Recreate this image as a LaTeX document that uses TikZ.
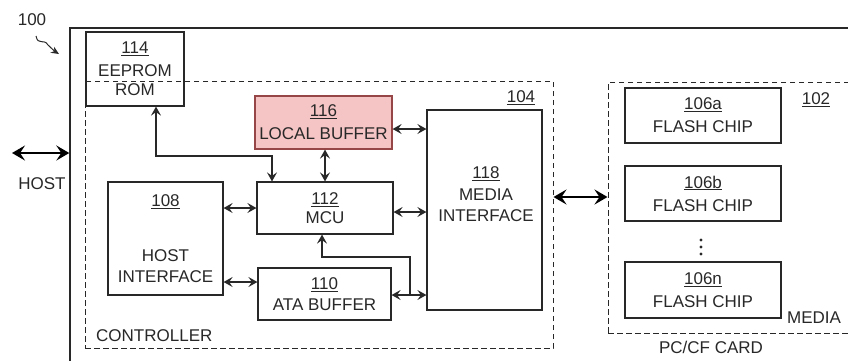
\documentclass[tikz,border=0pt]{standalone}
\usepackage{fontspec}
\setmainfont{Liberation Sans}
\usetikzlibrary{arrows.meta}
\definecolor{inkc}{RGB}{40,40,40}
\definecolor{pinkfill}{RGB}{245,196,196}
\definecolor{pinkdraw}{RGB}{150,70,70}
\begin{document}
\begin{tikzpicture}[x=1pt,y=-1pt,
  txt/.style={font=\fontsize{17}{24}\selectfont, text=inkc, inner sep=0pt},
  blk/.style={draw=inkc, line width=1.2pt, inner sep=0pt, align=center,
    font=\fontsize{17}{23}\selectfont, text=inkc},
  dbox/.style={draw=inkc, line width=1pt, dash pattern=on 5.5pt off 3.5pt, inner sep=0pt},
  biarr/.style={draw=inkc, line width=1.1pt, {Stealth[length=9pt,width=10pt,inset=3.5pt]}-{Stealth[length=9pt,width=10pt,inset=3.5pt]}},
  onearr/.style={draw=inkc, line width=1.1pt, -{Stealth[length=9pt,width=10pt,inset=3.5pt]}},
  fatarr/.style={draw=black, line width=2.6pt, {Stealth[length=13pt,width=15pt,inset=5pt]}-{Stealth[length=13pt,width=15pt,inset=5pt]}},
  dotc/.style={circle, fill=inkc, inner sep=0pt, minimum size=3.2pt}
]
\useasboundingbox (0,0) rectangle (848,360);
\clip (0,0) rectangle (848,360);
\fill[white] (0,0) rectangle (848,360);

% outer system box (open to right and bottom)
\node[draw=inkc, line width=1.4pt, minimum width=830pt, minimum height=372pt, inner sep=0pt] (sys) at (485,214) {};

% controller and card dashed boxes
\node[dbox, minimum width=468pt, minimum height=267pt] (ctrl) at (319,214.5) {};
\node[dbox, minimum width=292pt, minimum height=251pt] (card) at (754,207.5) {};

% blocks
\node[blk, minimum width=98pt, minimum height=74pt] (e114) at (135,69) {\underline{114}\\EEPROM\\[-4pt]ROM};
\node[blk, draw=pinkdraw, fill=pinkfill, minimum width=137pt, minimum height=53pt] (b116) at (323.5,122.5) {\underline{116}\\LOCAL BUFFER};
\node[blk, minimum width=136pt, minimum height=52pt] (m112) at (325,208) {\underline{112}\\[-4pt]MCU};
\node[blk, minimum width=115pt, minimum height=113pt] (h108) at (165.5,238.5) {\underline{108}\\[32pt]HOST\\[-2pt]INTERFACE};
\node[blk, minimum width=133pt, minimum height=52pt] (a110) at (324.5,294) {\underline{110}\\[-2pt]ATA BUFFER};
\node[blk, minimum width=115pt, minimum height=200pt] (mi118) at (484.5,210) {};
\node[txt, align=center, font=\fontsize{17}{23}\selectfont] (t118) at (486,194) {\underline{118}\\[-1pt]MEDIA\\[-2pt]INTERFACE};

\node[blk, minimum width=156pt, minimum height=55pt] (f106a) at (703,115.5) {\underline{106a}\\FLASH CHIP};
\node[blk, minimum width=156pt, minimum height=55pt] (f106b) at (703,193.5) {\underline{106b}\\FLASH CHIP};
\node[blk, minimum width=156pt, minimum height=56pt] (f106n) at (703,290) {\underline{106n}\\FLASH CHIP};
\node[dotc] (dot1) at (701,240) {};
\node[dotc] (dot2) at (701,247) {};
\node[dotc] (dot3) at (701,254) {};

% labels
\node[txt] (l100) at (32,20) {100};
\node[txt] (lhost) at (42,184) {HOST};
\node[txt, anchor=west] (lctrl) at (96,336) {CONTROLLER};
\node[txt] (l104) at (521,98) {\underline{104}};
\node[txt] (l102) at (816,100) {\underline{102}};
\node[txt] (lmedia) at (814,318) {MEDIA};
\node[txt] (lcard) at (711,347) {PC/CF CARD};

% reference squiggle
\coordinate (sq0) at (36,36);
\coordinate (sq1) at (59,54);
\draw[draw=inkc, line width=1pt, -{Stealth[length=8pt,width=7pt]}] (sq0) .. controls (38,46) and (44,38) .. (48,45) .. controls (51,49) .. (sq1);

% thick arrows
\coordinate (hostend) at (12,153);
\draw[fatarr] (hostend) -- (sys.west |- hostend);
\draw[fatarr] (ctrl.east |- 0,197) -- (card.west |- 0,197);

% internal connectors
\draw[biarr] (b116.east |- 0,129) -- (mi118.west |- 0,129);
\draw[biarr] (b116.south -| 325,0) -- (m112.north -| 325,0);
\coordinate (ebend) at (272,156);
\draw[biarr] (e114.south -| 156,0) |- (ebend) -- (m112.north -| ebend);
\draw[biarr] (h108.east |- 0,208) -- (m112.west |- 0,208);
\draw[biarr] (m112.east |- 0,212) -- (mi118.west |- 0,212);
\draw[biarr] (h108.east |- 0,282) -- (a110.west |- 0,282);
\draw[biarr] (a110.east |- 0,295) -- (mi118.west |- 0,295);
\coordinate (br0) at (410,295);
\coordinate (br1) at (322,257);
\draw[onearr] (br0) |- (br1) -- (m112.south -| br1);
\end{tikzpicture}
\end{document}
